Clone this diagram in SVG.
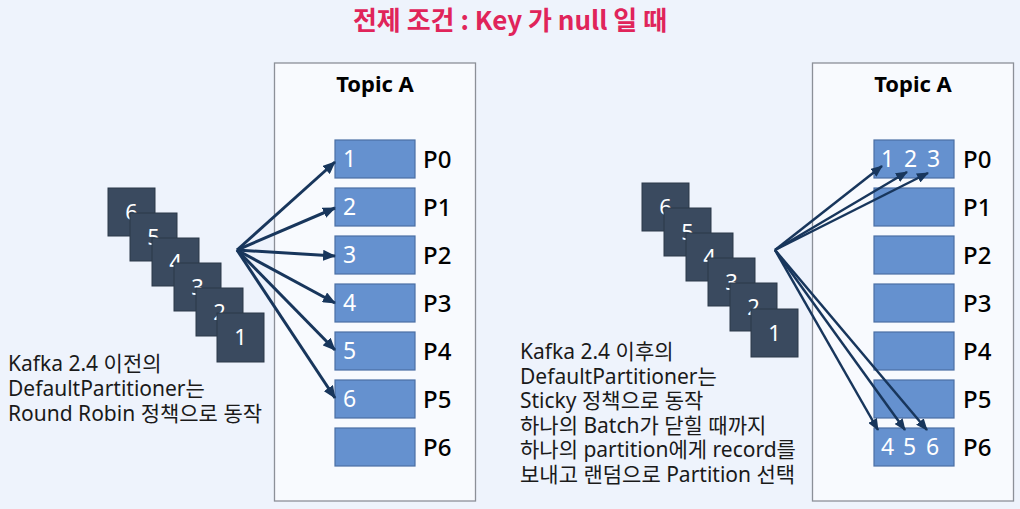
<svg xmlns="http://www.w3.org/2000/svg" width="1020" height="509" viewBox="0 0 1020 509">
<defs>
<style>
text{font-family:"Noto Sans","Noto Sans CJK KR",sans-serif}
.title{font-family:"Noto Sans CJK KR",sans-serif;font-weight:700;font-size:26px;fill:#e0245a}
.topic{fill:#f8fafe;stroke:#8c9098;stroke-width:1.3}
.tname{font-weight:700;font-size:22px;fill:#000}
.part{fill:#6591cf;stroke:#4b6fa4;stroke-width:1.2}
.plabel{font-size:24px;fill:#000;font-weight:500}
.pnum{font-size:23px;fill:#fff}
.msg{fill:#3a4a5f;stroke:#2a3849;stroke-width:1}
.mnum{font-size:22px;fill:#fff;text-anchor:middle}
.desc{font-size:21px;fill:#1a1a1a}
.arr{stroke:#18365c;stroke-width:3;fill:none;marker-end:url(#ah)}
.arr2{stroke:#18365c;stroke-width:2.5;fill:none;marker-end:url(#ah2)}
</style>
<marker id="ah" markerWidth="13" markerHeight="11" refX="12" refY="5.5" orient="auto" markerUnits="userSpaceOnUse">
<path d="M0,0 L13,5.5 L0,11 Z" fill="#18365c"/>
</marker>
<marker id="ah2" markerWidth="12" markerHeight="10" refX="11" refY="5" orient="auto" markerUnits="userSpaceOnUse">
<path d="M0,0 L12,5 L0,10 Z" fill="#18365c"/>
</marker>
</defs>
<rect x="0" y="0" width="1020" height="509" fill="#eef3fc"/>
<text class="title" x="510" y="30" text-anchor="middle">전제 조건 : Key 가 null 일 때</text>

<g id="topicA-left">
<rect class="topic" x="274.5" y="63" width="201" height="438"/>
<text class="tname" x="375" y="92" text-anchor="middle">Topic A</text>
</g>
<g id="topicA-right">
<rect class="topic" x="812.5" y="63" width="201" height="438"/>
<text class="tname" x="913" y="92" text-anchor="middle">Topic A</text>
</g>

<g id="left-partitions">
<g id="L-P0"><rect class="part" x="335" y="140" width="80" height="38"/><text class="pnum" x="343" y="167">1</text><text class="plabel" x="423" y="168">P0</text></g>
<g id="L-P1"><rect class="part" x="335" y="188" width="80" height="38"/><text class="pnum" x="343" y="215">2</text><text class="plabel" x="423" y="216">P1</text></g>
<g id="L-P2"><rect class="part" x="335" y="236" width="80" height="38"/><text class="pnum" x="343" y="263">3</text><text class="plabel" x="423" y="264">P2</text></g>
<g id="L-P3"><rect class="part" x="335" y="284" width="80" height="38"/><text class="pnum" x="343" y="311">4</text><text class="plabel" x="423" y="312">P3</text></g>
<g id="L-P4"><rect class="part" x="335" y="332" width="80" height="38"/><text class="pnum" x="343" y="359">5</text><text class="plabel" x="423" y="360">P4</text></g>
<g id="L-P5"><rect class="part" x="335" y="380" width="80" height="38"/><text class="pnum" x="343" y="407">6</text><text class="plabel" x="423" y="408">P5</text></g>
<g id="L-P6"><rect class="part" x="335" y="428" width="80" height="38"/><text class="plabel" x="423" y="456">P6</text></g>
</g>

<g id="right-partitions">
<g id="R-P0"><rect class="part" x="874" y="140" width="80" height="38"/><text class="pnum" x="881" y="167">1</text><text class="pnum" x="904" y="167">2</text><text class="pnum" x="927" y="167">3</text><text class="plabel" x="963" y="168">P0</text></g>
<g id="R-P1"><rect class="part" x="874" y="188" width="80" height="38"/><text class="plabel" x="963" y="216">P1</text></g>
<g id="R-P2"><rect class="part" x="874" y="236" width="80" height="38"/><text class="plabel" x="963" y="264">P2</text></g>
<g id="R-P3"><rect class="part" x="874" y="284" width="80" height="38"/><text class="plabel" x="963" y="312">P3</text></g>
<g id="R-P4"><rect class="part" x="874" y="332" width="80" height="38"/><text class="plabel" x="963" y="360">P4</text></g>
<g id="R-P5"><rect class="part" x="874" y="380" width="80" height="38"/><text class="plabel" x="963" y="408">P5</text></g>
<g id="R-P6"><rect class="part" x="874" y="428" width="80" height="38"/><text class="pnum" x="881" y="455">4</text><text class="pnum" x="903" y="455">5</text><text class="pnum" x="926" y="455">6</text><text class="plabel" x="963" y="456">P6</text></g>
</g>

<g id="left-messages">
<g id="L-m6"><rect class="msg" x="108" y="188" width="47" height="48"/><text class="mnum" x="131.5" y="220">6</text></g>
<g id="L-m5"><rect class="msg" x="130" y="213" width="47" height="48"/><text class="mnum" x="153.5" y="245">5</text></g>
<g id="L-m4"><rect class="msg" x="152" y="238" width="47" height="48"/><text class="mnum" x="175.5" y="270">4</text></g>
<g id="L-m3"><rect class="msg" x="174" y="263" width="47" height="48"/><text class="mnum" x="197.5" y="295">3</text></g>
<g id="L-m2"><rect class="msg" x="196" y="288" width="47" height="48"/><text class="mnum" x="219.5" y="320">2</text></g>
<g id="L-m1"><rect class="msg" x="217" y="313" width="47" height="49"/><text class="mnum" x="240.5" y="345">1</text></g>
</g>

<g id="right-messages">
<g id="R-m6"><rect class="msg" x="642" y="183" width="47" height="48"/><text class="mnum" x="665.5" y="215">6</text></g>
<g id="R-m5"><rect class="msg" x="664" y="208" width="47" height="48"/><text class="mnum" x="687.5" y="240">5</text></g>
<g id="R-m4"><rect class="msg" x="686" y="233" width="47" height="48"/><text class="mnum" x="709.5" y="265">4</text></g>
<g id="R-m3"><rect class="msg" x="708" y="258" width="47" height="48"/><text class="mnum" x="731.5" y="290">3</text></g>
<g id="R-m2"><rect class="msg" x="730" y="283" width="47" height="48"/><text class="mnum" x="753.5" y="315">2</text></g>
<g id="R-m1"><rect class="msg" x="751" y="309" width="47" height="48"/><text class="mnum" x="774.5" y="341">1</text></g>
</g>

<g id="connectors">
<line class="arr" x1="237" y1="250" x2="335" y2="162"/>
<line class="arr" x1="237" y1="250" x2="335" y2="208"/>
<line class="arr" x1="237" y1="250" x2="335" y2="256"/>
<line class="arr" x1="237" y1="250" x2="335" y2="303"/>
<line class="arr" x1="237" y1="250" x2="335" y2="350"/>
<line class="arr" x1="237" y1="250" x2="335" y2="398"/>
<line class="arr2" x1="775" y1="250" x2="882" y2="166"/>
<line class="arr2" x1="775" y1="250" x2="907" y2="172"/>
<line class="arr2" x1="775" y1="250" x2="928" y2="173"/>
<line class="arr2" x1="775" y1="250" x2="878" y2="430"/>
<line class="arr2" x1="775" y1="250" x2="905" y2="430"/>
<line class="arr2" x1="775" y1="250" x2="927" y2="430"/>
</g>

<g id="left-desc">
<text class="desc" x="8" y="371">Kafka 2.4 이전의</text>
<text class="desc" x="8" y="396">DefaultPartitioner는</text>
<text class="desc" x="8" y="421">Round Robin 정책으로 동작</text>
</g>
<g id="right-desc">
<text class="desc" x="520" y="359">Kafka 2.4 이후의</text>
<text class="desc" x="520" y="384">DefaultPartitioner는</text>
<text class="desc" x="520" y="408">Sticky 정책으로 동작</text>
<text class="desc" x="520" y="433">하나의 Batch가 닫힐 때까지</text>
<text class="desc" x="520" y="457">하나의 partition에게 record를</text>
<text class="desc" x="520" y="482">보내고 랜덤으로 Partition 선택</text>
</g>
</svg>
